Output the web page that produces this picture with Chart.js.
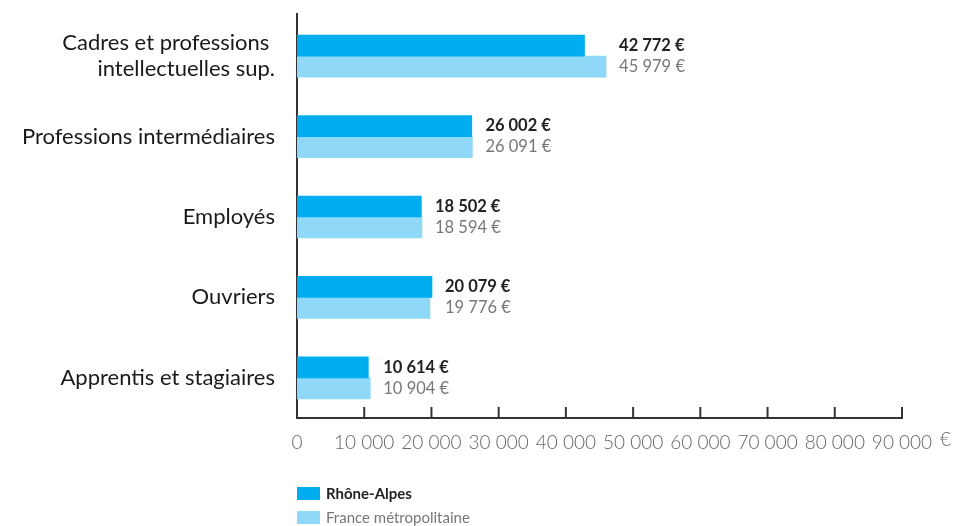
<!DOCTYPE html>
<html>
<head>
<meta charset="utf-8">
<script src="https://cdn.jsdelivr.net/npm/chart.js@4"></script>
<style>
  html, body { margin: 0; padding: 0; background: #fff; }
  #wrap { width: 954px; height: 526px; position: relative; }
</style>
</head>
<body>
<div id="wrap"><canvas id="salaires"></canvas></div>
<script>
const categories = [
  ["Cadres et professions ", "intellectuelles sup."],
  "Professions intermédiaires",
  "Employés",
  "Ouvriers",
  "Apprentis et stagiaires",
];
const rhone_alpes = [42772, 26002, 18502, 20079, 10614];
const france_metro = [45979, 26091, 18594, 19776, 10904];
const ticks_x = [0, 10000, 20000, 30000, 40000, 50000, 60000, 70000, 80000, 90000];
const noms_series = ["Rhône-Alpes", "France métropolitaine"];

const POLICE = "Lato, 'Open Sans', sans-serif";
const format_nombre = (v) => String(v).replace(/\B(?=(\d{3})+(?!\d))/g, " ");

// petites graduations vers le haut, "€" au bout de l'axe, valeurs et légende
const plugin_habillage = {
  id: "habillage",
  afterDraw: (chart) => {
    const ctx = chart.ctx;
    const x = chart.scales.x;
    const area = chart.chartArea;
    const bas = area.bottom;
    ctx.save();
    ctx.strokeStyle = "#333";
    ctx.lineWidth = 2;
    // l'axe vertical dépasse un peu au-dessus
    ctx.beginPath();
    ctx.moveTo(area.left, area.top);
    ctx.lineTo(area.left, area.top - 3);
    ctx.stroke();
    ticks_x.slice(1).forEach((v) => {
      const px = x.getPixelForValue(v);
      ctx.beginPath();
      ctx.moveTo(px, bas);
      ctx.lineTo(px, bas - 11);
      ctx.stroke();
    });

    ctx.fillStyle = "#666";
    ctx.font = "300 19px " + POLICE;
    ctx.textBaseline = "middle";
    ctx.textAlign = "left";
    ctx.fillText("€", x.getPixelForValue(90000) + 38, bas + 22);

    // étiquettes de valeurs
    const m0 = chart.getDatasetMeta(0);
    const m1 = chart.getDatasetMeta(1);
    m0.data.forEach((bar0, i) => {
      const bar1 = m1.data[i];
      const lx = Math.max(bar0.x, bar1.x) + 13;
      ctx.font = "bold 16.5px " + POLICE;
      ctx.fillStyle = "#222";
      ctx.fillText(format_nombre(rhone_alpes[i]) + " €", lx, bar0.y);
      ctx.font = "16.5px " + POLICE;
      ctx.fillStyle = "#777";
      ctx.fillText(format_nombre(france_metro[i]) + " €", lx, bar1.y);
    });

    // légende verticale
    chart.data.datasets.forEach((ds, i) => {
      const y = 487 + i * 24;
      ctx.fillStyle = ds.backgroundColor;
      ctx.fillRect(x.left, y, 23, 13);
      ctx.font = (i === 0 ? "bold " : "") + "15px " + POLICE;
      ctx.fillStyle = i === 0 ? "#222" : "#777";
      ctx.fillText(ds.label, x.left + 29, y + 7);
    });
    ctx.restore();
  },
};

const ctx = document.getElementById("salaires").getContext("2d");
const chart_salaires = new Chart(ctx, {
  type: "bar",
  data: {
    labels: categories,
    datasets: [
      {
        label: noms_series[0],
        data: rhone_alpes,
        backgroundColor: "#00aeef",
        barThickness: 21,
      },
      {
        label: noms_series[1],
        data: france_metro,
        backgroundColor: "#8fd8f7",
        barThickness: 21,
      },
    ],
  },
  options: {
    indexAxis: "y",
    responsive: true,
    maintainAspectRatio: false,
    animation: false,
    layout: { padding: { top: 16, right: 52, left: 0, bottom: 0 } },
    plugins: {
      legend: { display: false },
      tooltip: { enabled: false },
    },
    scales: {
      x: {
        min: 0,
        max: 90000,
        afterFit: (scale) => {
          scale.height = 108;
          scale.paddingLeft = 0;
          scale.paddingRight = 0;
        },
        afterBuildTicks: (scale) => {
          scale.ticks = ticks_x.map((v) => ({ value: v }));
        },
        grid: { display: false },
        border: { color: "#333", width: 2 },
        ticks: {
          color: "#666",
          padding: 5,
          maxRotation: 0,
          font: { family: POLICE, size: 19, weight: "300" },
          callback: (v) => format_nombre(v),
        },
      },
      y: {
        afterFit: (scale) => {
          scale.width = 297;
          scale.paddingTop = 0;
          scale.paddingBottom = 0;
        },
        grid: { display: false },
        border: { color: "#333", width: 2 },
        ticks: {
          color: "#1a1a1a",
          padding: 14,
          font: { family: POLICE, size: 22 },
        },
      },
    },
  },
  plugins: [plugin_habillage],
});
</script>
</body>
</html>
